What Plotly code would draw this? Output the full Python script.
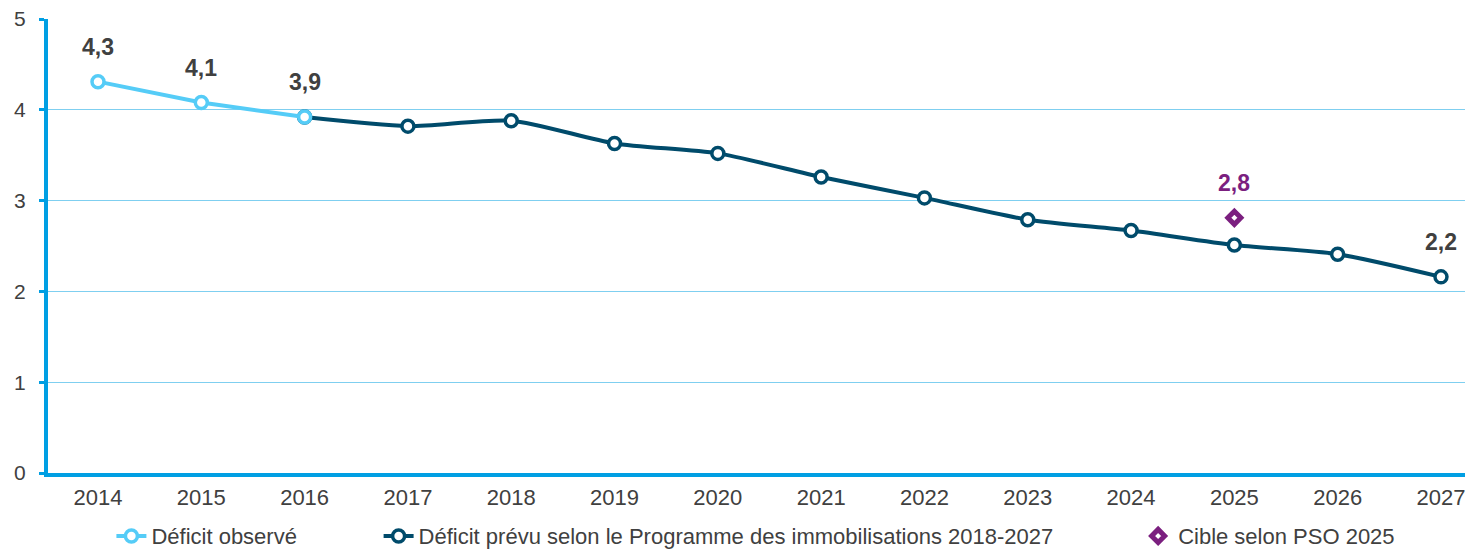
import plotly.graph_objects as go

years_obs = [2014, 2015, 2016]
deficit_obs = [4.31, 4.08, 3.92]
labels_obs = ["4,3", "4,1", "3,9"]

years_prev = [2016, 2017, 2018, 2019, 2020, 2021, 2022, 2023, 2024, 2025, 2026, 2027]
deficit_prev = [3.92, 3.82, 3.88, 3.63, 3.52, 3.26, 3.03, 2.79, 2.67, 2.51, 2.41, 2.16]

years_target = [2025]
target = [2.81]
labels_target = ["2,8"]

tick_years = list(range(2014, 2028))
y_ticks = [0, 1, 2, 3, 4, 5]

C_OBS = "#55CCF7"
C_PREV = "#004B6B"
C_TGT = "#7B1F7F"
C_AXIS = "#009FE3"
C_GRID = "#7FCFF0"
C_TEXT = "#404040"
FONT = "Liberation Sans, Arial, sans-serif"

fig = go.Figure()
fig.add_trace(go.Scatter(
    x=years_prev, y=deficit_prev, mode="lines+markers", line_shape="spline",
    line=dict(color=C_PREV, width=4, smoothing=0.7),
    marker=dict(symbol="circle", size=12, color="white", line=dict(color=C_PREV, width=3.5)),
    name="Déficit prévu selon le Programme des immobilisations 2018-2027", legend="legend2"))
fig.add_trace(go.Scatter(
    x=years_obs, y=deficit_obs, mode="lines+markers",
    line=dict(color=C_OBS, width=4),
    marker=dict(symbol="circle", size=12, color="white", line=dict(color=C_OBS, width=3.5)),
    name="Déficit observé", legend="legend"))
fig.add_trace(go.Scatter(
    x=years_target, y=target, mode="markers",
    marker=dict(symbol="diamond", size=10, color="white", line=dict(color=C_TGT, width=5)),
    name="Cible selon PSO 2025", legend="legend3"))

for x, y, t in zip(years_obs, deficit_obs, labels_obs):
    fig.add_annotation(x=x, y=y, text="<b>" + t + "</b>", showarrow=False, yshift=35,
                       font=dict(size=23, color=C_TEXT, family=FONT))
fig.add_annotation(x=years_prev[-1], y=deficit_prev[-1], text="<b>2,2</b>", showarrow=False,
                   yshift=35, font=dict(size=23, color=C_TEXT, family=FONT))
for x, y, t in zip(years_target, target, labels_target):
    fig.add_annotation(x=x, y=y, text="<b>" + t + "</b>", showarrow=False, yshift=35,
                       font=dict(size=23, color=C_TGT, family=FONT))

legend_common = dict(orientation="h", yref="paper", y=-0.139, yanchor="middle", xanchor="left",
                     font=dict(size=22, color=C_TEXT, family=FONT), bgcolor="rgba(0,0,0,0)",
                     itemwidth=30)
# page body has an 8px margin: figure is 8px smaller and margins reduced by 8px
fig.update_layout(
    width=1465, height=544,
    margin=dict(l=40, r=0, t=11, b=79, autoexpand=False),
    paper_bgcolor="white", plot_bgcolor="white",
    font=dict(family=FONT, color=C_TEXT),
    legend=dict(x=0.0445, **legend_common),
    legend2=dict(x=0.232, **legend_common),
    legend3=dict(x=0.765, **legend_common),
    showlegend=True,
)
fig.update_xaxes(
    range=[2013.516, 2027.31], tickmode="array", tickvals=tick_years,
    ticktext=[str(y) for y in tick_years], showgrid=False, zeroline=False,
    showline=True, linecolor=C_AXIS, linewidth=4, ticks="", automargin=False,
    tickfont=dict(size=22, color=C_TEXT, family=FONT), ticklabelstandoff=2,
    ticklabeloverflow="allow",
)
fig.update_yaxes(
    range=[0, 5], tickvals=y_ticks, showgrid=True, gridcolor=C_GRID, gridwidth=1,
    zeroline=False, showline=True, linecolor=C_AXIS, linewidth=4, automargin=False,
    ticks="outside", ticklen=5, tickwidth=3, tickcolor=C_AXIS,
    tickfont=dict(size=21, color=C_TEXT, family=FONT), ticklabelstandoff=9,
    ticklabeloverflow="allow",
)
fig.write_html("out.html")
